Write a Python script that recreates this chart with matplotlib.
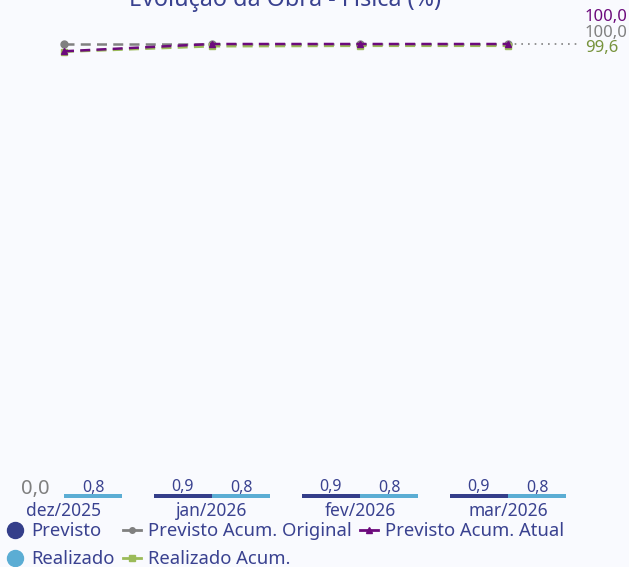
import matplotlib
matplotlib.use("Agg")
import matplotlib.pyplot as plt
from matplotlib.lines import Line2D
import numpy as np

plt.rcParams['font.family'] = ['Noto Sans', 'DejaVu Sans']

categories = ['dez/2025', 'jan/2026', 'fev/2026', 'mar/2026']
previsto = [0.0, 0.9, 0.9, 0.9]
realizado = [0.8, 0.8, 0.8, 0.8]
prev_acum_orig = [100.0, 100.0, 100.0, 100.0]
prev_acum_atual = [98.4, 100.0, 100.0, 100.0]
real_acum = [98.3, 99.5, 99.6, 99.6]

NAVY = '#343E8A'
LIGHT = '#5BADD4'
GRAY = '#808080'
PURPLE = '#6C0A7C'
GREEN = '#9BBB59'
OLIVE = '#77933C'
TEXT = '#3A4290'
BG = '#F9FAFE'

W, H = 629, 567
fig = plt.figure(figsize=(W / 100, H / 100), dpi=100, facecolor=BG)
ax = fig.add_axes([0, 1 - 498 / H, 1, (498 - 44) / H], facecolor=BG)

x = np.arange(len(categories))
bw = 0.39
off = 0.197
ax.bar(x - off, previsto, bw, color=NAVY, zorder=2)
ax.bar(x + off, realizado, bw, color=LIGHT, zorder=2)

fmt = lambda v: f"{v:.1f}".replace('.', ',')
for xi, v in zip(x - off, previsto):
    if v == 0:
        ax.annotate(fmt(v), (xi, v), xytext=(0, -1), textcoords='offset points',
                    ha='center', va='bottom', color='#7F7F7F', fontsize=14.5)
    else:
        ax.annotate(fmt(v), (xi, v), xytext=(0, -1), textcoords='offset points',
                    ha='center', va='bottom', color=TEXT, fontsize=11.5)
for xi, v in zip(x + off, realizado):
    ax.annotate(fmt(v), (xi, v), xytext=(0, -1), textcoords='offset points',
                ha='center', va='bottom', color=TEXT, fontsize=11.5)

ax.plot(x, prev_acum_orig, color=GRAY, ls=(0, (4, 2.5)), lw=1.8, marker='o', ms=5,
        clip_on=False, zorder=3)
ax.plot(x, real_acum, color=GREEN, ls=(0, (4, 2.5)), lw=1.8, marker='s', ms=5,
        clip_on=False, zorder=4)
ax.plot(x, prev_acum_atual, color=PURPLE, ls=(0, (4, 2.5)), lw=1.8, marker='^', ms=5,
        clip_on=False, zorder=5)

# dotted leader to end labels
end_x = x[-1] + 0.49
ax.plot([x[-1], end_x], [prev_acum_orig[-1]] * 2, color=GRAY, ls=(0, (1, 3)), lw=1.2,
        clip_on=False, zorder=1)

lab_x = x[-1] + 0.52
ax.annotate(fmt(real_acum[-1]), (lab_x, real_acum[-1]), xytext=(0, -1.5),
            textcoords='offset points', ha='left', va='center', color=OLIVE,
            fontsize=12, annotation_clip=False)
ax.annotate(fmt(prev_acum_orig[-1]), (lab_x, real_acum[-1]), xytext=(0, 9.5),
            textcoords='offset points', ha='left', va='center', color=GRAY,
            fontsize=12, annotation_clip=False)
ax.annotate(fmt(prev_acum_atual[-1]), (lab_x, real_acum[-1]), xytext=(0, 20.5),
            textcoords='offset points', ha='left', va='center', color=PURPLE,
            fontsize=12, annotation_clip=False)

ax.set_ylim(0, 100)
ax.set_xlim(-64 / 148, (W - 64) / 148)
ax.set_yticks([])
ax.set_xticks(x)
ax.set_xticklabels(categories, color=TEXT, fontsize=12.5)
ax.tick_params(axis='x', length=0, pad=3)
for s in ax.spines.values():
    s.set_visible(False)

fig.text(285 / W, 1 - 6 / H, 'Evolução da Obra - Física (%)', ha='center',
         va='baseline', color=TEXT, fontsize=16.8)

handles = [
    Line2D([], [], color=NAVY, marker='o', ls='none', ms=11.5),
    Line2D([], [], color=LIGHT, marker='o', ls='none', ms=11.5),
    Line2D([], [], color=GRAY, marker='o', ls='-', lw=2, ms=4),
    Line2D([], [], color=GREEN, marker='s', ls='-', lw=2, ms=4),
    Line2D([], [], color=PURPLE, marker='^', ls='-', lw=2, ms=4),
]
labels = ['Previsto', 'Realizado', 'Previsto Acum. Original', 'Realizado Acum.',
          'Previsto Acum. Atual']
leg = fig.legend(handles, labels, ncol=3, loc='upper left',
                 bbox_to_anchor=(6 / W, 1 - 522 / H), frameon=False,
                 fontsize=13.3, handlelength=1.0, handletextpad=0.35,
                 columnspacing=0.45, labelspacing=0.55, borderpad=0,
                 borderaxespad=0)
for t in leg.get_texts():
    t.set_color(TEXT)

fig.savefig('out.png', dpi=100, facecolor=BG)
